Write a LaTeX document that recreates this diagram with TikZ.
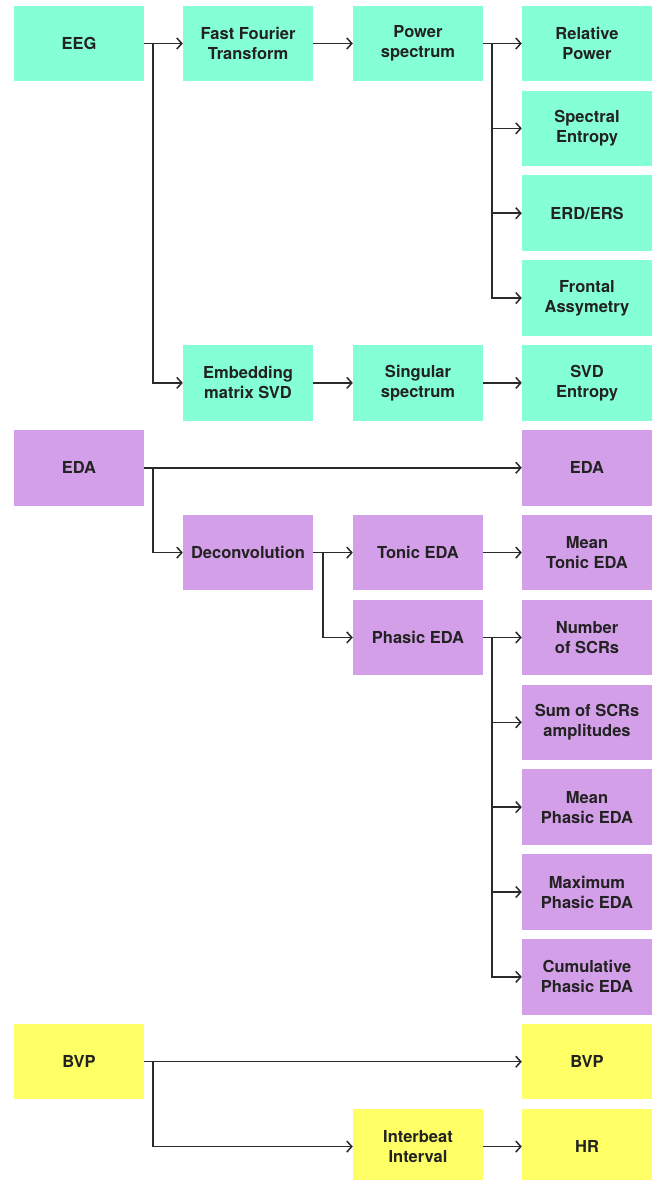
\documentclass[tikz,border=0pt]{standalone}
\usepackage{fontspec}
\setmainfont{TeX Gyre Heros}
\usetikzlibrary{arrows.meta}
\definecolor{eegc}{HTML}{84FFD6}
\definecolor{edac}{HTML}{D39FE8}
\definecolor{bvpc}{HTML}{FFFF66}
\definecolor{txt}{HTML}{222222}
\definecolor{ln}{HTML}{2A2A2A}
\tikzset{
  box/.style={minimum width=130pt, minimum height=75.5pt, inner sep=0pt, align=center,
    text=txt, font=\fontsize{16.5pt}{20pt}\selectfont\bfseries},
  eegbox/.style={box, fill=eegc},
  edabox/.style={box, fill=edac},
  bvpbox/.style={box, fill=bvpc},
  conn/.style={draw=ln, line width=1.5pt, -{Straight Barb[length=5pt,width=11pt,line width=1.5pt]}},
}
\begin{document}
\begin{tikzpicture}
\useasboundingbox (0,0) rectangle (654pt,-1180pt);
\def\r#1{-\fpeval{43.5+84.85*#1}pt}
% EEG
\node[eegbox] (eeg) at (79pt,\r0) {EEG};
\node[eegbox] (fft) at (248pt,\r0) {Fast Fourier\\Transform};
\node[eegbox] (ps) at (418pt,\r0) {Power\\spectrum};
\node[eegbox] (relp) at (587pt,\r0) {Relative\\Power};
\node[eegbox] (spe) at (587pt,\r1) {Spectral\\Entropy};
\node[eegbox] (erd) at (587pt,\r2) {ERD/ERS};
\node[eegbox] (front) at (587pt,\r3) {Frontal\\Assymetry};
\node[eegbox] (emb) at (248pt,\r4) {Embedding\\matrix SVD};
\node[eegbox] (sing) at (418pt,\r4) {Singular\\spectrum};
\node[eegbox] (svde) at (587pt,\r4) {SVD\\Entropy};
% EDA
\node[edabox] (eda) at (79pt,\r5) {EDA};
\node[edabox] (edaout) at (587pt,\r5) {EDA};
\node[edabox] (deconv) at (248pt,\r6) {Deconvolution};
\node[edabox] (tonic) at (418pt,\r6) {Tonic EDA};
\node[edabox] (meantonic) at (587pt,\r6) {Mean\\Tonic EDA};
\node[edabox] (phasic) at (418pt,\r7) {Phasic EDA};
\node[edabox] (num) at (587pt,\r7) {Number\\of SCRs};
\node[edabox] (sum) at (587pt,\r8) {Sum of SCRs\\amplitudes};
\node[edabox] (meanph) at (587pt,\r9) {Mean\\Phasic EDA};
\node[edabox] (maxph) at (587pt,\r{10}) {Maximum\\Phasic EDA};
\node[edabox] (cum) at (587pt,\r{11}) {Cumulative\\Phasic EDA};
% BVP
\node[bvpbox] (bvp) at (79pt,\r{12}) {BVP};
\node[bvpbox] (bvpout) at (587pt,\r{12}) {BVP};
\node[bvpbox] (ibi) at (418pt,\r{13}) {Interbeat\\Interval};
\node[bvpbox] (hr) at (587pt,\r{13}) {HR};
% connectors
\draw[conn] (eeg) -- (fft);
\draw[conn] (eeg.east) -- ++(9pt,0) |- (emb.west);
\draw[conn] (fft) -- (ps);
\draw[conn] (ps) -- (relp);
\draw[conn] (ps.east) -- ++(9pt,0) |- (spe.west);
\draw[conn] (ps.east) -- ++(9pt,0) |- (erd.west);
\draw[conn] (ps.east) -- ++(9pt,0) |- (front.west);
\draw[conn] (emb) -- (sing);
\draw[conn] (sing) -- (svde);
\draw[conn] (eda) -- (edaout);
\draw[conn] (eda.east) -- ++(9pt,0) |- (deconv.west);
\draw[conn] (deconv) -- (tonic);
\draw[conn] (deconv.east) -- ++(10pt,0) |- (phasic.west);
\draw[conn] (tonic) -- (meantonic);
\draw[conn] (phasic) -- (num);
\draw[conn] (phasic.east) -- ++(9pt,0) |- (sum.west);
\draw[conn] (phasic.east) -- ++(9pt,0) |- (meanph.west);
\draw[conn] (phasic.east) -- ++(9pt,0) |- (maxph.west);
\draw[conn] (phasic.east) -- ++(9pt,0) |- (cum.west);
\draw[conn] (bvp) -- (bvpout);
\draw[conn] (bvp.east) -- ++(9pt,0) |- (ibi.west);
\draw[conn] (ibi) -- (hr);
\end{tikzpicture}
\end{document}
